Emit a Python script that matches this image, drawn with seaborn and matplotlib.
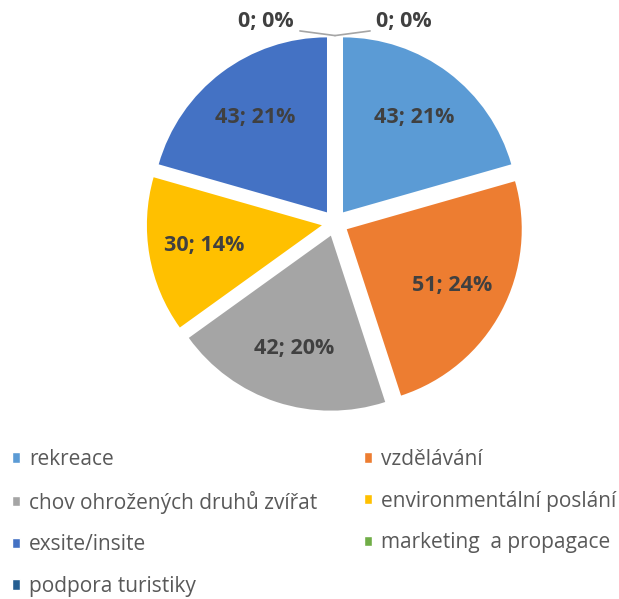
import seaborn as sns
import matplotlib.pyplot as plt
from matplotlib.patches import Patch

categories = ["rekreace", "vzdělávání", "chov ohrožených druhů zvířat",
              "environmentální poslání", "exsite/insite",
              "marketing  a propagace", "podpora turistiky"]
counts = [43, 51, 42, 30, 43, 0, 0]
colors = ["#5B9BD5", "#ED7D31", "#A5A5A5", "#FFC000", "#4472C4", "#70AD47", "#255E91"]

sns.set_theme(style="white")
plt.rcParams["font.family"] = ["Open Sans", "DejaVu Sans"]

total = sum(counts)

fig = plt.figure(figsize=(6.19, 5.99), dpi=100)
# square axes centred on the pie
cx, cy, half = 335, 223, 200
ax = fig.add_axes([(cx - half) / 619, (599 - cy - half) / 599, 2 * half / 619, 2 * half / 599])

def fmt(p):
    v = round(p * total / 100)
    return "" if v == 0 else f"{v}; {p:.0f}%"

wedges, texts, autotexts = ax.pie(
    counts, colors=colors, startangle=90, counterclock=False,
    explode=[0.076] * len(counts), autopct=fmt, pctdistance=0.68,
    wedgeprops=dict(linewidth=0),
    textprops=dict(color="#404040", fontsize=15.5, fontweight="bold"))

lim = half / 175
ax.set_xlim(-lim, lim)
ax.set_ylim(-lim, lim)
ax.set_aspect("equal")
ax.axis("off")

# zero slices: labels outside with leader lines
zero_idx = [i for i, c in enumerate(counts) if c == 0]
sides = [-1, 1]
for side, i in zip(sides, zero_idx):
    w = wedges[i]
    tx, ty = w.center
    ax.annotate(f"{counts[i]}; 0%", xy=(tx, ty + w.r - 0.005),
                xytext=(side * 0.235, 1.15),
                ha="right" if side < 0 else "left", va="center",
                color="#404040", fontsize=15.5, fontweight="bold",
                arrowprops=dict(arrowstyle="-", color="#A5A5A5", lw=1.2,
                                relpos=(1, 0.1) if side < 0 else (0, 0.1),
                                shrinkA=2, shrinkB=0))

# legend in row-major order
order = [0, 2, 4, 6, 1, 3, 5]
handles = [Patch(facecolor=colors[i], label=categories[i]) for i in order]
fig.legend(handles=handles, loc="upper left", bbox_to_anchor=(12 / 619, 1 - 449 / 599),
           ncol=2, frameon=False, fontsize=15, labelcolor="#595959",
           handlelength=0.39, handleheight=0.39, handletextpad=0.43,
           columnspacing=2.25, labelspacing=0.99, borderaxespad=0, borderpad=0)

fig.savefig("out.png", dpi=100)
